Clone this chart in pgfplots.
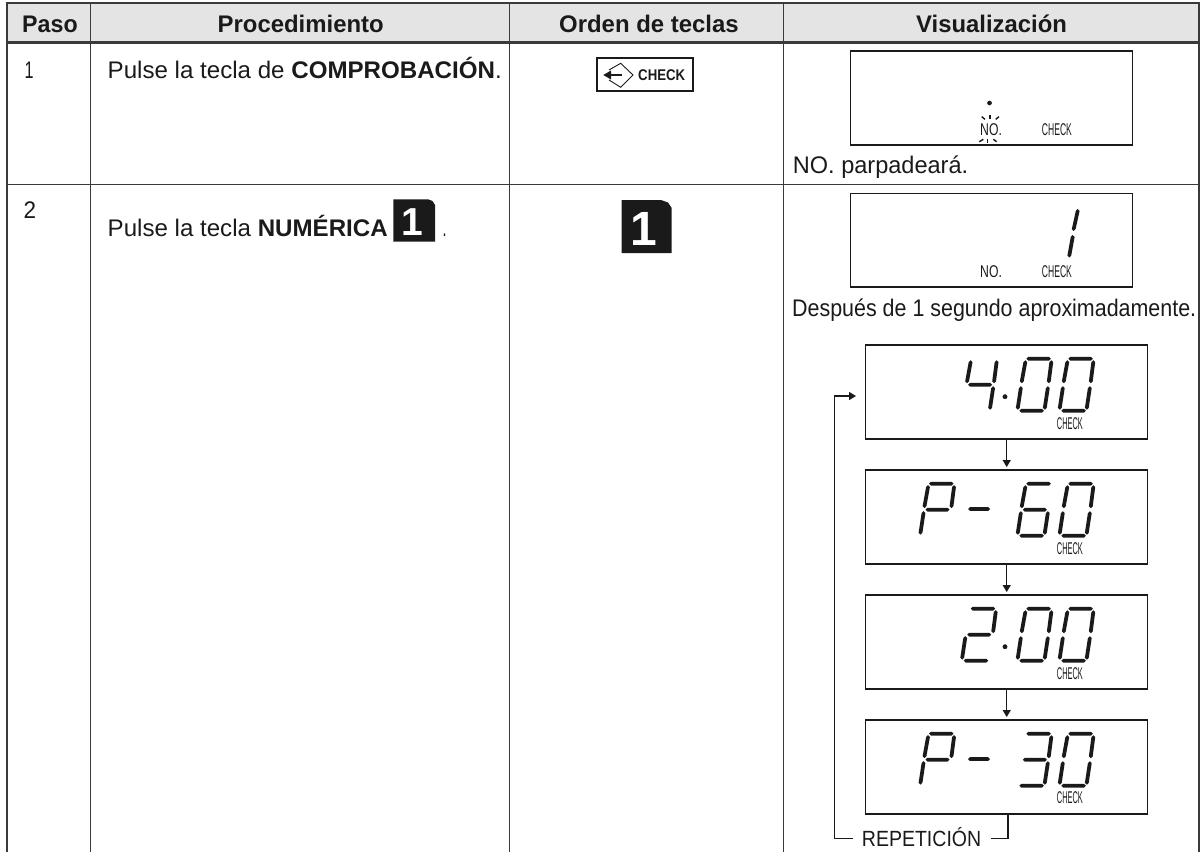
\documentclass[border=0pt]{standalone}
\usepackage{fontspec}
\usepackage{graphicx}
\usepackage{pgfplots}
\pgfplotsset{compat=1.18}
\setmainfont{Liberation Sans}
\definecolor{ink}{HTML}{1A1A1A}
\definecolor{rule}{HTML}{3A3A3A}
\definecolor{hdr}{HTML}{E4E4E4}
\newcommand\T[5][24]{\node[anchor=base west,inner sep=0pt,text=ink] at (axis cs:#2,#3) {\resizebox{#4pt}{\height}{\fontsize{#1}{#1}\selectfont #5}};}
\newcommand\Ln[5][rule]{\addplot[draw=#1,line width=1.4pt,forget plot] coordinates {(#2,#3)(#4,#5)};}
\newcommand\Lw[5]{\addplot[draw=rule,line width=#1pt,forget plot] coordinates {(#2,#3)(#4,#5)};}
\newcommand\Lcd[4]{\addplot[draw=ink,line width=1.5pt,forget plot] coordinates {(#1,#2)(#3,#2)(#3,#4)(#1,#4)(#1,#2)(#3,#2)};}
\newcommand\Poly[1]{\addplot[fill=ink,draw=none,forget plot] coordinates {#1};}
\newcommand\segH[3]{%
 \pgfmathsetmacro\xa{#1}\pgfmathsetmacro\xb{#2}\pgfmathsetmacro\yy{#3}%
 \pgfmathsetmacro\xc{\xa+1.9}\pgfmathsetmacro\xd{\xb-1.9}%
 \pgfmathsetmacro\yt{\yy-1.9}\pgfmathsetmacro\yb{\yy+1.9}%
 \edef\tmp{\noexpand\addplot[fill=ink,draw=none,forget plot] coordinates {(\xa,\yy)(\xc,\yt)(\xd,\yt)(\xb,\yy)(\xd,\yb)(\xc,\yb)};}\tmp}
\newcommand\segV[4]{%
 \pgfmathsetmacro\xa{#1}\pgfmathsetmacro\ya{#2}\pgfmathsetmacro\xb{#3}\pgfmathsetmacro\yb{#4}%
 \pgfmathsetmacro\xal{\xa-1.9}\pgfmathsetmacro\xar{\xa+1.9}\pgfmathsetmacro\xbl{\xb-1.9}\pgfmathsetmacro\xbr{\xb+1.9}%
 \pgfmathsetmacro\yc{\ya+1.9}\pgfmathsetmacro\yd{\yb-1.9}%
 \edef\tmp{\noexpand\addplot[fill=ink,draw=none,forget plot] coordinates {(\xa,\ya)(\xar,\yc)(\xbr,\yd)(\xb,\yb)(\xbl,\yd)(\xal,\yc)};}\tmp}
\newcommand\SA[2]{\segH{#1+9}{#1+33.5}{#2+1}}
\newcommand\SG[2]{\segH{#1+5.5}{#1+29.5}{#2+27}}
\newcommand\SD[2]{\segH{#1+2}{#1+26.5}{#2+53}}
\newcommand\SB[2]{\segV{#1+34}{#2+2.5}{#1+31.5}{#2+25.5}}
\newcommand\SC[2]{\segV{#1+30.5}{#2+28.5}{#1+27.5}{#2+52}}
\newcommand\SE[2]{\segV{#1+3.5}{#2+28.5}{#1+0.5}{#2+52}}
\newcommand\SF[2]{\segV{#1+8}{#2+2.5}{#1+4.5}{#2+25.5}}
\newcommand\dzero[2]{\SA{#1}{#2}\SB{#1}{#2}\SC{#1}{#2}\SD{#1}{#2}\SE{#1}{#2}\SF{#1}{#2}}
\newcommand\dfour[2]{\SF{#1}{#2}\SG{#1}{#2}\SB{#1}{#2}\SC{#1}{#2}}
\newcommand\dsix[2]{\SA{#1}{#2}\SF{#1}{#2}\SG{#1}{#2}\SE{#1}{#2}\SC{#1}{#2}\SD{#1}{#2}}
\newcommand\dtwo[2]{\SA{#1}{#2}\SB{#1}{#2}\SG{#1}{#2}\SE{#1}{#2}\SD{#1}{#2}}
\newcommand\dthree[2]{\SA{#1}{#2}\SB{#1}{#2}\SG{#1}{#2}\SC{#1}{#2}\SD{#1}{#2}}
\newcommand\dP[2]{\SA{#1}{#2}\SB{#1}{#2}\SF{#1}{#2}\SG{#1}{#2}\SE{#1}{#2}}
\newcommand\Chk[3]{\T[17]{#1}{#2}{#3}{CHECK}}
\begin{document}
\begin{tikzpicture}
\useasboundingbox (0,0) rectangle (1200pt,852pt);
\begin{axis}[at={(0,0)},anchor=south west,scale only axis,width=1200pt,height=852pt,
  xmin=0,xmax=1200,ymin=0,ymax=852,y dir=reverse,hide axis,clip=true]
% header fill
\addplot[fill=hdr,draw=none,forget plot] coordinates {(7,3)(1199,3)(1199,42)(7,42)};
% table rules
\Lw{2.2}{6.2}{3.3}{1199.6}{3.3}
\Lw{2.2}{6.2}{42.5}{1199.6}{42.5}
\Lw{1.2}{7}{184.3}{1199}{184.3}
\Lw{2}{7.2}{3}{7.2}{852}
\Lw{1.3}{90.7}{3}{90.7}{852}
\Lw{1.3}{509.3}{3}{509.3}{852}
\Lw{1.3}{783.7}{3}{783.7}{852}
\Lw{1.3}{1198.9}{3}{1198.9}{852}
% header text
\T{22}{32}{55.5}{\bfseries Paso}
\T{217.5}{32}{166}{\bfseries Procedimiento}
\T{559}{32}{179.5}{\bfseries Orden de teclas}
\T{916}{32}{150.7}{\bfseries Visualización}
% body text
\T{24.5}{78}{9}{1}
\T{23.5}{218}{12.5}{2}
\T{107.5}{78}{394}{Pulse la tecla de \textbf{COMPROBACIÓN}.}
\T{107.5}{236}{280}{Pulse la tecla \textbf{NUMÉRICA}}
\T{442.5}{236}{4}{.}
\T{792.7}{173}{175.3}{NO. parpadeará.}
\T{792}{316}{404}{Después de 1 segundo aproximadamente.}
\T[22]{861.7}{846.7}{119.3}{REPETICIÓN}
% CHECK key
\addplot[draw=ink,line width=1.9pt,forget plot] coordinates {(596.8,58.4)(693.2,58.4)(693.2,90.7)(596.8,90.7)(596.8,58.4)(693.2,58.4)};
\addplot[draw=ink,line width=0.9pt,forget plot] coordinates {(609,70)(620.7,63.3)(633,75)(620.7,87.3)(609,80)};
\addplot[draw=ink,line width=1.9pt,forget plot] coordinates {(609,75)(621.7,75)};
\Poly{(603.3,75)(611,70.5)(611,79.5)}
\node[anchor=base west,inner sep=0pt,text=ink] at (axis cs:638,80.5) {\resizebox{47pt}{\height}{\fontsize{15.5}{15.5}\selectfont\bfseries CHECK}};
% numeric keys
\addplot[fill=ink,draw=none,forget plot] coordinates {(393.3,199.3)(428,199.3)(432.5,201)(435,205)(435,241.7)(393.3,241.7)};
\node[anchor=base,inner sep=0pt,text=white] at (axis cs:412.5,235) {\fontsize{39}{39}\selectfont\bfseries 1};
\addplot[fill=ink,draw=none,forget plot] coordinates {(621.7,200)(661,200)(668,202.5)(671.7,208)(671.7,253)(621.7,253)};
\node[anchor=base,inner sep=0pt,text=white] at (axis cs:644,245) {\fontsize{48}{48}\selectfont\bfseries 1};
% LCD 1
\Lcd{850.5}{51}{1132.3}{145}
\addplot[only marks,mark=*,mark size=2.1pt,mark options={fill=ink,draw=ink},forget plot] coordinates {(989.5,103)};
\Ln[ink]{990}{115}{990}{119.3}
\Ln[ink]{981.7}{116.7}{985}{119.3}
\Ln[ink]{999}{116.7}{995.7}{119.3}
\Ln[ink]{987.7}{139}{987.7}{143.3}
\Ln[ink]{979.3}{141.7}{983.3}{139.3}
\Ln[ink]{996.7}{141.7}{993.3}{139.3}
\T[17]{980}{135}{21.7}{NO.}
\Chk{1041.7}{135}{30}
% LCD 2
\Lcd{850.5}{193.7}{1132.3}{287}
\segV{1077.7}{209}{1073.7}{231}
\segV{1072.7}{235}{1069.3}{257.5}
\T[17]{980}{277.3}{21.7}{NO.}
\Chk{1041.7}{277.3}{30}
% LCD 3
\Lcd{865.7}{345}{1147.7}{439}
\dfour{962.6}{357.7}
\dzero{1017.3}{357.7}
\dzero{1059.3}{357.7}
\addplot[only marks,mark=*,mark size=2.2pt,mark options={fill=ink,draw=ink},forget plot] coordinates {(1005,396.7)};
\Chk{1056.7}{429}{26}
% LCD 4
\Lcd{865.7}{470}{1147.7}{564}
\dP{920}{482.7}
\segH{968}{990}{509}
\dsix{1017.3}{482.7}
\dzero{1059.3}{482.7}
\Chk{1056.7}{554}{26}
% LCD 5
\Lcd{865.7}{595}{1147.7}{689}
\dtwo{961.7}{607.7}
\dzero{1017.3}{607.7}
\dzero{1059.3}{607.7}
\addplot[only marks,mark=*,mark size=2.2pt,mark options={fill=ink,draw=ink},forget plot] coordinates {(1005,646.7)};
\Chk{1056.7}{679}{26}
% LCD 6
\Lcd{865.7}{720}{1147.7}{814}
\dP{920}{732.7}
\segH{968}{990}{759}
\dthree{1017.3}{732.7}
\dzero{1059.3}{732.7}
\Chk{1056.7}{803.3}{26}
% arrows
\Ln[ink]{1006.7}{439}{1006.7}{461}
\Poly{(1006.7,467)(1002.5,460)(1010.9,460)}
\Ln[ink]{1006.7}{564}{1006.7}{586}
\Poly{(1006.7,592)(1002.5,585)(1010.9,585)}
\Ln[ink]{1006.7}{689}{1006.7}{711}
\Poly{(1006.7,717)(1002.5,710)(1010.9,710)}
\addplot[draw=ink,line width=1.4pt,forget plot] coordinates {(1008,814)(1008,838.5)(991,838.5)};
\addplot[draw=ink,line width=1.4pt,forget plot] coordinates {(853,838.5)(834.5,838.5)(834.5,396)(851,396)};
\Poly{(856,396)(849,391.8)(849,400.2)}
\end{axis}
\end{tikzpicture}
\end{document}
